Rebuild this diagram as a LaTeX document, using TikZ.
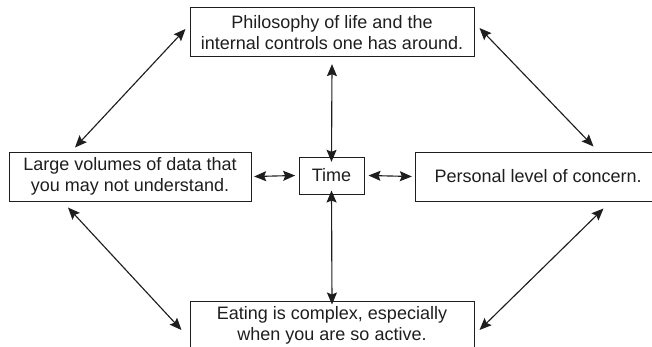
\documentclass[tikz,border=0pt]{standalone}
\usepackage{fontspec}
\setmainfont{Liberation Sans}
\usetikzlibrary{arrows.meta}
\definecolor{ink}{HTML}{1E1E1E}
\begin{document}
\begin{tikzpicture}[x=0.75pt,y=-0.75pt,
  box/.style={draw=ink,line width=0.75pt,inner sep=0pt,align=center,
    font=\fontsize{13.5}{15.8}\selectfont,text=ink},
  bigbox/.style={box,minimum width=213pt,minimum height=36.75pt},
  sidebox/.style={box,minimum height=36.75pt},
  tip/.tip={Stealth[length=9pt,width=7.5pt,inset=1.5pt]},
  arr/.style={ink,line width=0.85pt,tip-tip}]
\useasboundingbox (0,0) rectangle (652,346);
\node[bigbox] (tp) at (332,32.5) {Philosophy of life and the\\internal controls one has around.};
\node[sidebox,minimum width=181.5pt] (lf) at (130,176.5) {Large volumes of data that\\you may not understand.};
\node[box,minimum width=48.75pt,minimum height=27.75pt] (tm) at (331.5,175.5) {Time};
\node[sidebox,minimum width=177.75pt] (rt) at (533.5,176.5) {\hspace*{7pt}Personal level of concern.};
\node[bigbox] (bt) at (332,325.5) {Eating is complex, especially\\when you are so active.};
% diagonal connectors
\draw[arr] ([shift={(-4,-3.5)}]tp.west) -- ([shift={(-55,-4)}]lf.north);
\draw[arr] ([shift={(5,-4.5)}]tp.east) -- ([shift={(60,-5)}]rt.north);
\draw[arr] ([shift={(-62,6)}]lf.south) -- ([shift={(-8,4.5)}]bt.west);
\draw[arr] ([shift={(70,7)}]rt.south) -- ([shift={(5,4.5)}]bt.east);
% time connectors
\draw[arr] ([yshift=-5]tp.south) -- ([yshift=-4]tm.north);
\draw[arr] ([yshift=3]tm.south) -- ([yshift=-3]bt.north);
\draw[arr] ([xshift=2]lf.east) -- ([xshift=-2.5]tm.west);
\draw[arr] ([xshift=3]tm.east) -- ([xshift=-2]rt.west);
\end{tikzpicture}
\end{document}
